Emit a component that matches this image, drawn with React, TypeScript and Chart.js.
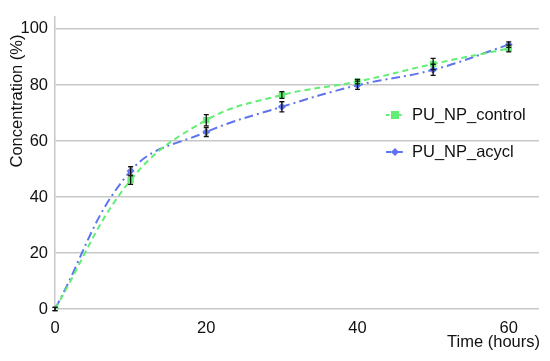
import React, { useEffect, useRef } from "react";
import { Chart, registerables } from "chart.js";
Chart.register(...registerables);

const hours = [0, 10, 20, 30, 40, 50, 60];
const controlValues = [0, 46, 67.4, 76.4, 81.2, 87.5, 93];
const acyclValues = [0, 49.3, 63.2, 72.2, 79.9, 85.4, 94.4];
const controlErrors = [0.6, 1.5, 2, 1.2, 0.8, 2, 1.2];
const acyclErrors = [0.6, 1.5, 1.6, 1.8, 1.5, 2, 1];
const xTicks = [0, 20, 40, 60];
const yTicks = [0, 20, 40, 60, 80, 100];
const seriesLabels = ["PU_NP_control", "PU_NP_acycl"];
const xTitle = "Time (hours)";
const yTitle = "Concentration (%)";

const FONT = '"Liberation Sans", Arial, sans-serif';
const GREEN = "#62ee74";
const BLUE = "#5f74ee";
const GRID = "#c6c8c8";

export default function App() {
  const ref = useRef<HTMLCanvasElement | null>(null);
  useEffect(() => {
    if (!ref.current) return;
    const errs = [controlErrors, acyclErrors];
    const styles = [
      { color: GREEN, dash: [6, 4], point: "rect", r: 4.5 },
      { color: BLUE, dash: [9, 4, 2, 4], point: "rectRot", r: 4 },
    ];
    const plugin = {
      id: "custom",
      afterDatasetsDraw(chart: any) {
        const ctx = chart.ctx;
        const xs = chart.scales.x;
        const ys = chart.scales.y;
        ctx.save();
        ctx.strokeStyle = "#111";
        ctx.lineWidth = 1.3;
        chart.data.datasets.forEach((ds: any, di: number) => {
          ds.data.forEach((p: any, i: number) => {
            const e = errs[di][i];
            const px = xs.getPixelForValue(p.x);
            const y1 = ys.getPixelForValue(p.y + e);
            const y2 = ys.getPixelForValue(p.y - e);
            ctx.beginPath();
            ctx.moveTo(px, y1);
            ctx.lineTo(px, y2);
            ctx.moveTo(px - 2.5, y1);
            ctx.lineTo(px + 2.5, y1);
            ctx.moveTo(px - 2.5, y2);
            ctx.lineTo(px + 2.5, y2);
            ctx.stroke();
          });
        });
        ctx.restore();
      },
      afterDraw(chart: any) {
        const ctx = chart.ctx;
        ctx.save();
        ctx.fillStyle = "#111";
        ctx.font = `16.5px ${FONT}`;
        // x title
        ctx.textAlign = "right";
        ctx.textBaseline = "middle";
        ctx.fillText(xTitle, 540, 342);
        // y title
        ctx.save();
        ctx.translate(17, 101);
        ctx.rotate(-Math.PI / 2);
        ctx.textAlign = "center";
        ctx.fillText(yTitle, 0, 0);
        ctx.restore();
        // legend
        const rows = [115, 152];
        seriesLabels.forEach((lab, i) => {
          const y = rows[i];
          const s = styles[i];
          ctx.strokeStyle = s.color;
          ctx.lineWidth = 2;
          ctx.setLineDash(s.dash.map((d) => d * 0.6));
          ctx.beginPath();
          ctx.moveTo(386, y);
          ctx.lineTo(404, y);
          ctx.stroke();
          ctx.setLineDash([]);
          ctx.fillStyle = s.color;
          if (s.point === "rect") {
            ctx.fillRect(391, y - 4, 8, 8);
          } else {
            ctx.beginPath();
            ctx.moveTo(395, y - 4);
            ctx.lineTo(399, y);
            ctx.lineTo(395, y + 4);
            ctx.lineTo(391, y);
            ctx.closePath();
            ctx.fill();
          }
          ctx.fillStyle = "#111";
          ctx.textAlign = "left";
          ctx.textBaseline = "middle";
          ctx.fillText(lab, 412, y);
        });
        ctx.restore();
      },
    };
    const chart = new Chart(ref.current, {
      type: "line",
      data: {
        datasets: [controlValues, acyclValues].map((vals, di) => ({
          label: seriesLabels[di],
          data: hours.map((h, i) => ({ x: h, y: vals[i] })),
          borderColor: styles[di].color,
          backgroundColor: styles[di].color,
          borderWidth: 2,
          borderDash: styles[di].dash,
          pointStyle: styles[di].point as any,
          pointRadius: styles[di].r,
          pointBorderWidth: 0,
          tension: 0.4,
          fill: false,
        })),
      },
      options: {
        animation: false,
        responsive: false,
        layout: { padding: { top: 8, right: 11, left: 0, bottom: 0 } },
        plugins: { legend: { display: false }, tooltip: { enabled: false } },
        scales: {
          x: {
            type: "linear",
            min: 0,
            max: 64,
            afterBuildTicks: (s: any) => {
              s.ticks = xTicks.map((v) => ({ value: v }));
            },
            afterFit: (s: any) => {
              s.height = 52;
            },
            grid: { display: false, drawTicks: false },
            border: { display: false },
            ticks: {
              padding: 10,
              color: "#111",
              font: { family: FONT, size: 16.5 },
              maxRotation: 0,
            },
          },
          y: {
            type: "linear",
            min: 0,
            max: 104.3,
            afterBuildTicks: (s: any) => {
              s.ticks = yTicks.map((v) => ({ value: v }));
            },
            afterFit: (s: any) => {
              s.width = 55;
            },
            grid: { color: GRID, lineWidth: 1.5, drawTicks: false },
            border: { display: true, color: GRID, width: 1.5 },
            ticks: {
              padding: 7,
              color: "#111",
              font: { family: FONT, size: 16.5 },
            },
          },
        },
      },
      plugins: [plugin],
    });
    return () => chart.destroy();
  }, []);
  return (
    <div style={{ position: "absolute", left: 0, top: 0, width: 550, height: 361, background: "#fff" }}>
      <canvas ref={ref} width={550} height={361} />
    </div>
  );
}
